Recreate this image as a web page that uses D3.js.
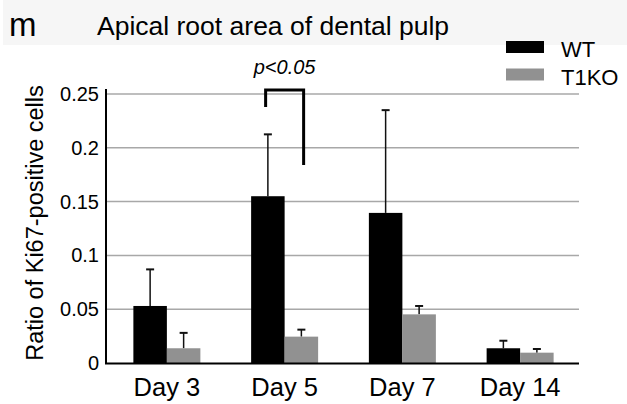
<!DOCTYPE html>
<html>
<head>
<meta charset="utf-8">
<script src="https://cdn.jsdelivr.net/npm/d3@7"></script>
<style>
  body { margin: 0; background: #fff; }
  svg text { font-family: "Liberation Sans", Arial, sans-serif; }
</style>
</head>
<body>
<script>
// data
var days = ['Day 3', 'Day 5', 'Day 7', 'Day 14'];
var series = ['WT', 'T1KO'];
var wt_values = [0.053, 0.155, 0.1395, 0.0137];
var wt_errors = [0.034, 0.0575, 0.0955, 0.007];
var ko_values = [0.0137, 0.0245, 0.0452, 0.0096];
var ko_errors = [0.0143, 0.0065, 0.0078, 0.0034];
var y_ticks = [0, 0.05, 0.1, 0.15, 0.2, 0.25];
var y_tick_labels = ['0', '0.05', '0.1', '0.15', '0.2', '0.25'];

var width = 627;
var height = 404;
var colors = { 'WT': '#000000', 'T1KO': '#919191' };

var container = d3.select('body')
    .append('svg')
    .attr('width', width)
    .attr('height', height);

// light header strip behind the title
container.append('rect')
    .attr('x', 3)
    .attr('y', 0)
    .attr('width', width - 3)
    .attr('height', 45)
    .attr('fill', '#f6f6f6');

container.append('text')
    .attr('x', 9)
    .attr('y', 36)
    .style('font-size', '33px')
    .text('m');

container.append('text')
    .attr('x', 97)
    .attr('y', 35)
    .style('font-size', '26.5px')
    .text('Apical root area of dental pulp');

var x = d3.scaleBand()
    .domain(days)
    .range([108, 579])
    .padding(0);

var bar_w = 33.5;
var y = d3.scaleLinear()
    .domain([0, 0.25])
    .range([363, 94]);

// grid
container.append('g')
    .attr('id', 'grid_markings')
    .selectAll('line').data(y_ticks.slice(1)).enter()
    .append('line')
    .attr('x1', 106)
    .attr('x2', 579)
    .attr('y1', function(d) { return y(d); })
    .attr('y2', function(d) { return y(d); })
    .attr('stroke', '#a8a8a8')
    .attr('stroke-width', 1.5);

// y tick labels
container.append('g')
    .selectAll('text').data(y_ticks).enter()
    .append('text')
    .attr('x', 99)
    .attr('y', function(d) { return y(d); })
    .attr('dy', '0.35em')
    .style('text-anchor', 'end')
    .style('font-size', '20px')
    .text(function(d, i) { return y_tick_labels[i]; });

container.append('text')
    .attr('transform', 'rotate(-90)')
    .attr('x', -223)
    .attr('y', 43)
    .style('text-anchor', 'middle')
    .style('font-size', '23.5px')
    .text('Ratio of Ki67-positive cells');

// bars
var rows = [];
days.forEach(function(d, i) {
    rows.push({ day: d, s: 'WT', v: wt_values[i], e: wt_errors[i] });
    rows.push({ day: d, s: 'T1KO', v: ko_values[i], e: ko_errors[i] });
});

function bar_x(d) {
    var c = x(d.day) + x.bandwidth() / 2;
    return d.s === 'WT' ? c - bar_w : c;
}

var bars = container.append('g').attr('id', 'bars');

// error bars (upper only)
bars.selectAll('line.err').data(rows).enter()
    .append('line')
    .attr('class', 'err')
    .attr('x1', function(d) { return bar_x(d) + bar_w / 2; })
    .attr('x2', function(d) { return bar_x(d) + bar_w / 2; })
    .attr('y1', function(d) { return y(d.v); })
    .attr('y2', function(d) { return y(d.v + d.e); })
    .attr('stroke', '#111')
    .attr('stroke-width', 1.5);

bars.selectAll('line.cap').data(rows).enter()
    .append('line')
    .attr('class', 'cap')
    .attr('x1', function(d) { return bar_x(d) + bar_w / 2 - 4; })
    .attr('x2', function(d) { return bar_x(d) + bar_w / 2 + 4; })
    .attr('y1', function(d) { return y(d.v + d.e); })
    .attr('y2', function(d) { return y(d.v + d.e); })
    .attr('stroke', '#111')
    .attr('stroke-width', 2);

bars.selectAll('rect').data(rows).enter()
    .append('rect')
    .attr('x', bar_x)
    .attr('y', function(d) { return y(d.v); })
    .attr('width', bar_w)
    .attr('height', function(d) { return y(0) - y(d.v); })
    .attr('fill', function(d) { return colors[d.s]; });

// axes lines
container.append('line')
    .attr('x1', 106).attr('x2', 106)
    .attr('y1', 89).attr('y2', 364)
    .attr('stroke', '#000').attr('stroke-width', 2);

container.append('line')
    .attr('x1', 105).attr('x2', 579)
    .attr('y1', 363.5).attr('y2', 363.5)
    .attr('stroke', '#000').attr('stroke-width', 2);

// x labels
container.append('g')
    .selectAll('text').data(days).enter()
    .append('text')
    .attr('x', function(d) { return x(d) + x.bandwidth() / 2; })
    .attr('y', 396)
    .style('text-anchor', 'middle')
    .style('font-size', '25.5px')
    .text(function(d) { return d; });

// significance bracket on Day 5
var cx = x('Day 5') + x.bandwidth() / 2;
container.append('path')
    .attr('d', 'M' + (cx - 19) + ',' + 107 + 'V' + 90 + 'H' + (cx + 19) + 'V' + 165)
    .attr('fill', 'none')
    .attr('stroke', '#000')
    .attr('stroke-width', 3);

container.append('text')
    .attr('x', cx)
    .attr('y', 74)
    .style('text-anchor', 'middle')
    .style('font-size', '20px')
    .style('font-style', 'italic')
    .text('p<0.05');

// legend
var legend = container.append('g').attr('id', 'legend');
series.forEach(function(s, i) {
    legend.append('rect')
        .attr('x', 506)
        .attr('y', 41 + i * 27.5)
        .attr('width', 38)
        .attr('height', 12)
        .attr('fill', colors[s]);
    legend.append('text')
        .attr('x', 561)
        .attr('y', 56.5 + i * 28.5)
        .style('font-size', '22px')
        .text(s);
});
</script>
</body>
</html>
